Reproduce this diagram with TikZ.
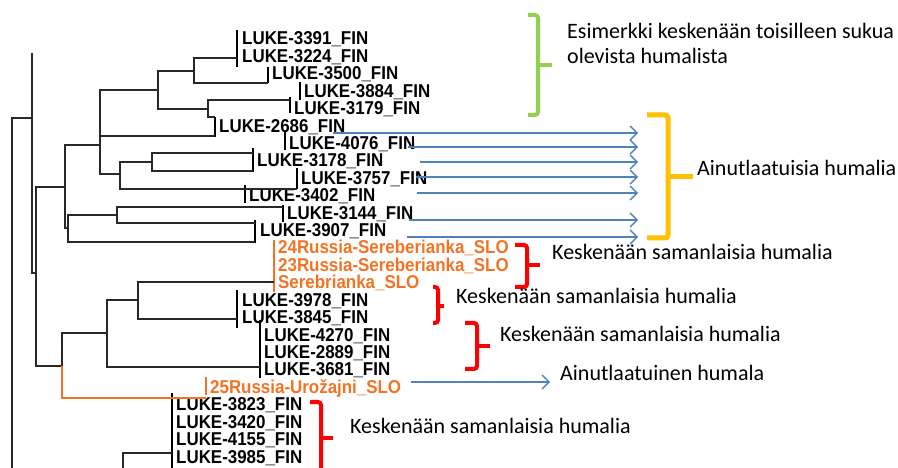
\documentclass[tikz,border=0pt]{standalone}
\usepackage{fontspec}
\setmainfont{Carlito}
\newfontfamily\leaffont[FakeStretch=0.91]{Liberation Sans}
\usetikzlibrary{arrows.meta}
\definecolor{treegray}{RGB}{40,40,40}
\definecolor{slorange}{RGB}{242,115,35}
\definecolor{arrowblue}{RGB}{79,129,189}
\definecolor{bracegreen}{RGB}{146,208,80}
\definecolor{braceyellow}{RGB}{255,192,0}
\definecolor{bracered}{RGB}{255,0,0}
\tikzset{
  branch/.style={draw=treegray, line width=1.5bp},
  leafbar/.style={draw=black, line width=2.6bp},
  leaf/.style={anchor=base west, inner sep=0pt, font=\leaffont\bfseries\fontsize{18.6bp}{18.6bp}\selectfont},
  sloleaf/.style={leaf, text=slorange},
  pointer/.style={draw=arrowblue, line width=1.4bp, -{Straight Barb[length=7bp,width=14bp]}},
  curly/.style={line width=4bp, rounded corners=3bp},
  note/.style={anchor=base west, inner sep=0pt, font=\fontsize{22bp}{22bp}\selectfont}
}
\begin{document}
\begin{tikzpicture}[x=1bp, y=-1bp]
\useasboundingbox (0,0) rectangle (898,468);

% leaves
\node (l3391) [leaf] at (242,45.0) {LUKE-3391\_FIN};
\node (l3224) [leaf] at (242,62.4) {LUKE-3224\_FIN};
\node (l3500) [leaf] at (272,79.8) {LUKE-3500\_FIN};
\node (l3884) [leaf] at (304,97.3) {LUKE-3884\_FIN};
\node (l3179) [leaf] at (294,114.7) {LUKE-3179\_FIN};
\node (l2686) [leaf] at (219,132.1) {LUKE-2686\_FIN};
\node (l4076) [leaf] at (289,149.5) {LUKE-4076\_FIN};
\node (l3178) [leaf] at (257,166.9) {LUKE-3178\_FIN};
\node (l3757) [leaf] at (301,184.4) {LUKE-3757\_FIN};
\node (l3402) [leaf] at (249,201.8) {LUKE-3402\_FIN};
\node (l3144) [leaf] at (287,219.2) {LUKE-3144\_FIN};
\node (l3907) [leaf] at (260,236.6) {LUKE-3907\_FIN};
\node (s24) [sloleaf] at (278,254.0) {24Russia-Sereberianka\_SLO};
\node (s23) [sloleaf] at (278,271.5) {23Russia-Sereberianka\_SLO};
\node (sser) [sloleaf] at (278,288.9) {Serebrianka\_SLO};
\node (l3978) [leaf] at (242,306.3) {LUKE-3978\_FIN};
\node (l3845) [leaf] at (242,323.7) {LUKE-3845\_FIN};
\node (l4270) [leaf] at (264,341.1) {LUKE-4270\_FIN};
\node (l2889) [leaf] at (264,358.6) {LUKE-2889\_FIN};
\node (l3681) [leaf] at (264,376.0) {LUKE-3681\_FIN};
\node (s25) [sloleaf] at (210,393.4) {25Russia-Urožajni\_SLO};
\node (l3823) [leaf] at (176,410.8) {LUKE-3823\_FIN};
\node (l3420) [leaf] at (176,428.2) {LUKE-3420\_FIN};
\node (l4155) [leaf] at (176,445.7) {LUKE-4155\_FIN};
\node (l3985) [leaf] at (176,463.1) {LUKE-3985\_FIN};

% bars in front of the leaves
\draw[leafbar] (237,30) -- (237,67);
\draw[leafbar] (268,67) -- (268,83);
\draw[leafbar] (300,82) -- (300,100);
\draw[leafbar] (290,97) -- (290,113);
\draw[leafbar] (215,117) -- (215,137);
\draw[leafbar] (285,132) -- (285,150);
\draw[leafbar] (253,148) -- (253,172);
\draw[leafbar] (297,168) -- (297,189);
\draw[leafbar] (245,185) -- (245,203);
\draw[leafbar] (283,205) -- (283,222);
\draw[leafbar] (255,220) -- (255,243);
\draw[leafbar, draw=slorange, line width=1.8bp] (274,240) -- (274,292);
\draw[leafbar] (237,290) -- (237,328);
\draw[leafbar] (260,320) -- (260,378);
\draw[leafbar, draw=slorange, line width=1.8bp] (206,377) -- (206,395);
\draw[leafbar] (172,393) -- (172,468);

% tips and branch points
\coordinate (t3391) at (237,58);
\coordinate (t3500) at (268,83);
\coordinate (t3179) at (290,100);
\coordinate (t2686a) at (215,117);
\coordinate (t2686b) at (215,136);
\coordinate (t3178a) at (253,153);
\coordinate (t3178b) at (253,171);
\coordinate (t3757) at (297,189);
\coordinate (t3144) at (283,207);
\coordinate (t3907a) at (255,223);
\coordinate (t3907b) at (255,242);
\coordinate (tser) at (274,282);
\coordinate (t3978) at (237,319);
\coordinate (t4270) at (260,367);
\coordinate (t25) at (206,398);
\coordinate (t3823) at (172,453);

\coordinate (nA) at (32,118);
\coordinate (nB) at (36,273);
\coordinate (nC) at (65,187);
\coordinate (nD) at (100,145);
\coordinate (nF) at (158,90);
\coordinate (nI) at (194,71);
\coordinate (nJ) at (208,109);
\coordinate (nH) at (120,174);
\coordinate (nK) at (152,162);
\coordinate (nE) at (68,228);
\coordinate (nL) at (117,215);
\coordinate (nG) at (62,366);
\coordinate (nM) at (107,333);
\coordinate (nN) at (138,300);

% tree
\draw[branch] (12,468) |- (nA);
\draw[branch] (nA) -- (32,53);
\draw[branch] (nA) |- (nB);
\draw[branch] (nB) |- (nC);
\draw[branch] (nB) |- (nG);
\draw[branch] (nC) |- (nD);
\draw[branch] (nC) |- (nE);
\draw[branch] (nD) |- (nF);
\draw[branch] (nD) |- (t2686b);
\draw[branch] (nD) |- (nH);
\draw[branch] (nF) |- (nI);
\draw[branch] (nF) |- (nJ);
\draw[branch] (nI) |- (t3391);
\draw[branch] (nI) |- (t3500);
\draw[branch] (nJ) |- (t3179);
\draw[branch] (nJ) |- (t2686a);
\draw[branch] (nH) |- (nK);
\draw[branch] (nH) |- (t3757);
\draw[branch] (nK) |- (t3178a);
\draw[branch] (nK) |- (t3178b);
\draw[branch] (nE) |- (nL);
\draw[branch] (nE) |- (t3907b);
\draw[branch] (nL) |- (t3144);
\draw[branch] (nL) |- (t3907a);
\draw[branch] (nG) |- (nM);
\draw[branch, draw=slorange] (nG) |- (t25);
\draw[branch] (nM) |- (nN);
\draw[branch] (nM) |- (t4270);
\draw[branch] (nN) |- (tser);
\draw[branch] (nN) |- (t3978);
\draw[branch] (123,468) |- (t3823);

% arrows to the unique ones
\coordinate (a1) at (333,133); \coordinate (b1) at (638,133);
\coordinate (a2) at (408,147); \coordinate (b2) at (638,147);
\coordinate (a3) at (420,162); \coordinate (b3) at (638,162);
\coordinate (a4) at (416,177); \coordinate (b4) at (638,177);
\coordinate (a5) at (417,193); \coordinate (b5) at (638,193);
\coordinate (a6) at (409,220); \coordinate (b6) at (638,220);
\coordinate (a7) at (407,237); \coordinate (b7) at (638,237);
\coordinate (a8) at (411,382); \coordinate (b8) at (550,382);
\draw[pointer] (a1) -- (b1);
\draw[pointer] (a2) -- (b2);
\draw[pointer] (a3) -- (b3);
\draw[pointer] (a4) -- (b4);
\draw[pointer] (a5) -- (b5);
\draw[pointer] (a6) -- (b6);
\draw[pointer] (a7) -- (b7);
\draw[pointer] (a8) -- (b8);

% braces
\draw[curly, bracegreen] (528,15) -- (538,15) -- (538,115) -- (528,115);
\draw[bracegreen, line width=4bp] (538,65) -- (552,65);
\draw[curly, braceyellow, line width=5bp] (647,115) -- (668,115) -- (668,238) -- (647,238);
\draw[braceyellow, line width=5bp] (668,177) -- (693,177);
\draw[curly, bracered] (515,245) -- (527,245) -- (527,287) -- (515,287);
\draw[bracered, line width=4bp] (527,265) -- (540,265);
\draw[curly, bracered] (433,287) -- (438,287) -- (438,323) -- (433,323);
\draw[bracered, line width=4bp] (438,306) -- (444,306);
\draw[curly, bracered] (465,323) -- (477,323) -- (477,369) -- (465,369);
\draw[bracered, line width=4bp] (477,346) -- (490,346);
\draw[curly, bracered] (310,402) -- (321,402) -- (321,480);
\draw[bracered, line width=4bp] (321,438) -- (333,438);

% notes
\node (esim) [note] at (567,38.5) {Esimerkki keskenään toisilleen sukua};
\node (olev) [note] at (567,63.5) {olevista humalista};
\node (ainut) [note] at (697,175.7) {Ainutlaatuisia humalia};
\node (kesk1) [note] at (552,259.3) {Keskenään samanlaisia humalia};
\node (kesk2) [note] at (456,304) {Keskenään samanlaisia humalia};
\node (kesk3) [note] at (500,341.7) {Keskenään samanlaisia humalia};
\node (ainut1) [note] at (560,380.7) {Ainutlaatuinen humala};
\node (kesk4) [note] at (350,433.3) {Keskenään samanlaisia humalia};
\end{tikzpicture}
\end{document}
